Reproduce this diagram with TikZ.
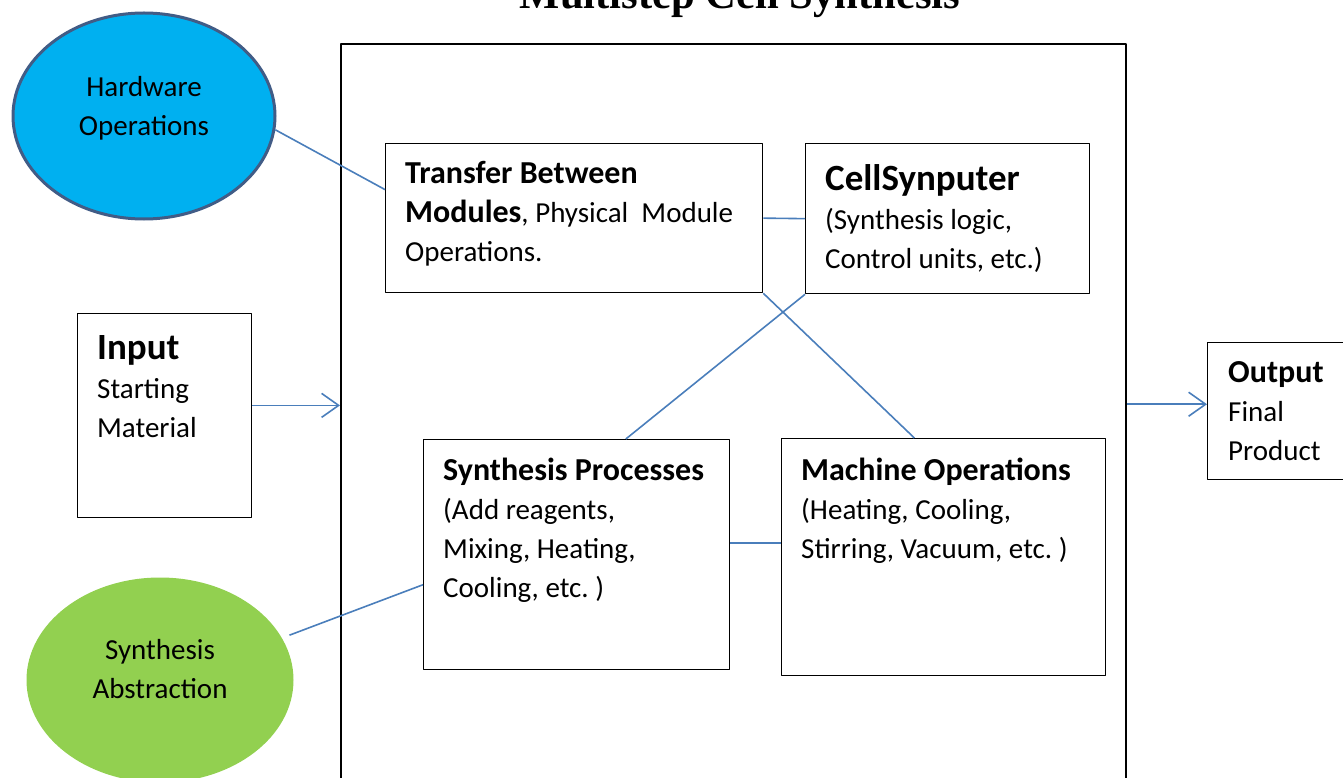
\documentclass[tikz,border=0pt]{standalone}
\usepackage{fontspec}
\setmainfont{Carlito}
\newfontfamily\titleserif{Liberation Serif}
\usetikzlibrary{calc,arrows.meta,shapes.geometric}
\definecolor{hwblue}{RGB}{0,176,240}
\definecolor{hwedge}{RGB}{65,92,134}
\definecolor{absgreen}{RGB}{146,208,80}
\definecolor{linkblue}{RGB}{74,126,187}
\newcommand{\bodyfont}{\fontsize{29}{39}\selectfont}
\newcommand{\headfont}{\fontsize{32}{39}\selectfont\bfseries}
\newcommand{\keyfont}{\fontsize{37}{39}\selectfont\bfseries}
\tikzset{
  box/.style={draw, line width=1.3pt, inner sep=0pt, anchor=north west},
  boxtext/.style={anchor=north west, inner sep=0pt, align=left, font=\bodyfont},
  link/.style={draw=linkblue, line width=1.6pt},
  flow/.style={link, -{Straight Barb[length=17pt,width=24pt]}},
}
\frenchspacing
\begin{document}
\begin{tikzpicture}[x=1pt, y=-1pt, line join=round]
\useasboundingbox (0,0) rectangle (1343,778);
\clip (0,0) rectangle (1343,778);
% title, cut by the page edge
\node[anchor=base, font=\titleserif\bfseries\fontsize{42.6}{48}\selectfont] (title) at (740,9) {Multistep Cell Synthesis};
% outer frame
\node[box, line width=2pt, minimum width=785pt, minimum height=820pt] (frame) at (340,43) {};
% side ellipses
\node[ellipse, fill=hwblue, draw=hwedge, line width=3pt, minimum width=262pt, minimum height=206pt, inner sep=0pt] (hw) at (144,116) {};
\node[font=\bodyfont, align=center, inner sep=0pt] (hw-label) at (144,108) {Hardware\\Operations};
\node[ellipse, fill=absgreen, minimum width=267pt, minimum height=205pt, inner sep=0pt] (sa) at (160,680) {};
\node[font=\bodyfont, align=center, inner sep=0pt] (sa-label) at (160,669) {Synthesis\\Abstraction};
% input / output
\node[box, minimum width=174pt, minimum height=204pt] (input) at (77,313) {};
\node[boxtext] (input-txt) at ($(input.north west)+(20,18.7)$) {{\keyfont\strut Input}\\Starting\\Material};
\node[box, minimum width=200pt, minimum height=137pt] (output) at (1207,342) {};
\node[boxtext] (output-txt) at ($(output.north west)+(21,12.7)$) {{\headfont\strut Output}\\Final\\Product};
% inner boxes
\node[box, minimum width=377pt, minimum height=149pt] (transfer) at (385,143) {};
\node[boxtext] (transfer-txt) at ($(transfer.north west)+(20,12.7)$) {{\headfont\strut Transfer Between}\\{\headfont Modules}, Physical~ Module\\Operations.};
\node[box, minimum width=284pt, minimum height=150pt] (cellsyn) at (805,143) {};
\node[boxtext] (cellsyn-txt) at ($(cellsyn.north west)+(20,19.7)$) {{\keyfont\strut CellSynputer}\\(Synthesis logic,\\Control units, etc.)};
\node[box, minimum width=306pt, minimum height=230pt] (synth) at (423,439) {};
\node[boxtext] (synth-txt) at ($(synth.north west)+(20,13.7)$) {{\headfont\strut Synthesis Processes}\\(Add reagents,\\Mixing, Heating,\\Cooling, etc. )};
\node[box, minimum width=324pt, minimum height=237pt] (machine) at (781,438) {};
\node[boxtext] (machine-txt) at ($(machine.north west)+(20,14.7)$) {{\headfont\strut Machine Operations}\\(Heating, Cooling,\\Stirring, Vacuum, etc. )};
% connectors
\draw[link] (hw.-6) -- ($(transfer.north west)!0.31!(transfer.south west)$);
\draw[link, shorten <=8pt] (sa.19) -- ($(synth.north west)!0.63!(synth.south west)$);
\draw[link] (transfer.east) -- (cellsyn.west);
\draw[link] (transfer.south east) -- ($(machine.north west)!0.41!(machine.north east)$);
\draw[link] (cellsyn.south west) -- ($(synth.north west)!0.66!(synth.north east)$);
\coordinate (sm) at ($(synth.north east)!0.45!(synth.south east)$);
\draw[link] (sm) -- (sm -| machine.west);
\coordinate (in) at ($(input.north east)!0.45!(input.south east)$);
\draw[flow] (in) -- (in -| frame.west);
\coordinate (out) at ($(output.north west)!0.45!(output.south west)$);
\draw[flow] (out -| frame.east) -- (out);
\end{tikzpicture}
\end{document}
